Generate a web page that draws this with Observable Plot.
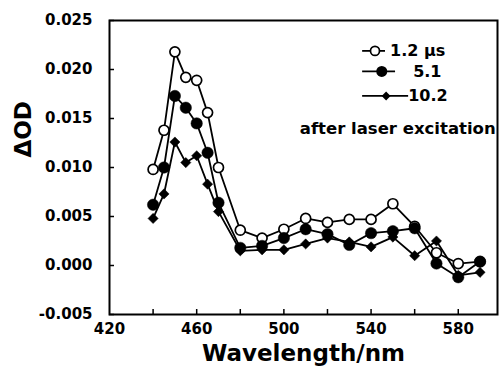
<!DOCTYPE html>
<html>
<head>
<meta charset="utf-8">
<script src="https://cdn.jsdelivr.net/npm/d3@7"></script>
<script src="https://cdn.jsdelivr.net/npm/@observablehq/plot@0.6"></script>
<style>
  html, body { margin: 0; padding: 0; background: #fff; }
  #chart { width: 500px; height: 375px; }
</style>
</head>
<body>
<div id="chart"></div>
<script>
// ---- data ----
const wavelengths = [440, 445, 450, 455, 460, 465, 470, 480, 490, 500, 510, 520, 530, 540, 550, 560, 570, 580, 590];
const od_1_2us = [0.0098, 0.0138, 0.0218, 0.0192, 0.0189, 0.0156, 0.0100, 0.0036, 0.0028, 0.0037, 0.0048, 0.0044, 0.0047, 0.0047, 0.0063, 0.0040, 0.0013, 0.0002, 0.0004];
const od_5_1us = [0.0062, 0.0100, 0.0173, 0.0161, 0.0145, 0.0115, 0.0064, 0.0018, 0.0020, 0.0028, 0.0037, 0.0032, 0.0021, 0.0033, 0.0035, 0.0038, 0.0002, -0.0012, 0.0004];
const od_10_2us = [0.0048, 0.0073, 0.0126, 0.0105, 0.0112, 0.0083, 0.0055, 0.0015, 0.0016, 0.0016, 0.0022, 0.0028, 0.0024, 0.0019, 0.0029, 0.0010, 0.0025, -0.0010, -0.0007];
const seriesLabels = ["1.2 \u00b5s", "5.1", "10.2"];
const xTickLabels = [420, 460, 500, 540, 580];
const xTickMarks = [440, 460, 480, 500, 520, 540, 560, 580];
const yTicks = [-0.005, 0.000, 0.005, 0.010, 0.015, 0.020, 0.025];
const xTitle = "Wavelength/nm";
const yTitle = "\u0394OD";
const note = "after laser excitation";

// ---- layout (positions in data units) ----
const X0 = 420, X1 = 598, Y0 = -0.005, Y1 = 0.025;
const pxX = (X1 - X0) / 388, pxY = (Y1 - Y0) / 294;
const legendLayout = [
  {lineFrom: 535.9, lineTo: 546.4, mark: 541.8, text: 548.7, y: 0.0219},
  {lineFrom: 535.9, lineTo: 551.0, mark: 544.9, text: 559.3, y: 0.0198},
  {lineFrom: 535.9, lineTo: 557.0, mark: 546.9, text: 557.0, y: 0.0173}
];
const noteAt = {x: 507.3, y: 0.0140};

const rows = (vals) => wavelengths.map((w, i) => ({w, v: vals[i]}));
const r1 = rows(od_1_2us), r2 = rows(od_5_1us), r3 = rows(od_10_2us);

const legendRows = seriesLabels.map((label, i) => ({label, ...legendLayout[i]}));

const lineStyle = {x: "w", y: "v", stroke: "black", strokeWidth: 1.8};
const openDot = {r: 5, fill: "white", stroke: "black", strokeWidth: 1.7};
const fillDot = {r: 5.7, fill: "black", stroke: "black", strokeWidth: 0.5};
const diamondDot = {r: 4.6, symbol: "diamond2", fill: "black", stroke: "black", strokeWidth: 0.5};

const chart = Plot.plot({
  width: 500,
  height: 375,
  marginLeft: 109,
  marginRight: 3,
  marginTop: 20,
  marginBottom: 61,
  style: {fontFamily: "DejaVu Sans", fontWeight: "bold", fontSize: "15px", color: "black", background: "white"},
  x: {domain: [X0, X1]},
  y: {domain: [Y0, Y1]},
  marks: [
    Plot.axisX({ticks: xTickLabels, tickSize: 0, tickPadding: 9, tickFormat: d => String(d), label: null, fontSize: 15}),
    Plot.axisY({ticks: yTicks, tickSize: 0, tickPadding: 17, tickFormat: d => d.toFixed(3), label: null, fontSize: 15}),
    Plot.ruleX(xTickMarks, {x: d => d, y1: Y0, y2: Y0 + 5 * pxY, stroke: "black", strokeWidth: 1.5}),
    Plot.ruleY(yTicks, {y: d => d, x1: X0, x2: X0 + 5 * pxX, stroke: "black", strokeWidth: 1.5}),
    Plot.frame({stroke: "black", strokeWidth: 2}),
    // series
    Plot.line(r3, lineStyle),
    Plot.dot(r3, {x: "w", y: "v", ...diamondDot}),
    Plot.line(r1, lineStyle),
    Plot.dot(r1, {x: "w", y: "v", ...openDot}),
    Plot.line(r2, lineStyle),
    Plot.dot(r2, {x: "w", y: "v", ...fillDot}),
    // legend
    Plot.link(legendRows, {x1: "lineFrom", x2: "lineTo", y1: "y", y2: "y", stroke: "black", strokeWidth: 1.8}),
    Plot.dot(legendRows.filter((d, i) => i === 0), {x: "mark", y: "y", r: 4.5, fill: "white", stroke: "black", strokeWidth: 1.7}),
    Plot.dot(legendRows.filter((d, i) => i === 1), {x: "mark", y: "y", r: 5.5, fill: "black"}),
    Plot.dot(legendRows.filter((d, i) => i === 2), {x: "mark", y: "y", r: 4, symbol: "diamond2", fill: "black"}),
    Plot.text(legendRows, {x: "text", y: "y", text: "label", textAnchor: "start", fontSize: 16, fontWeight: "bold", fill: "black"}),
    Plot.text([note], {x: noteAt.x, y: noteAt.y, text: d => d, textAnchor: "start", fontSize: 16.5, fontWeight: "bold", fill: "black"}),
    // axis titles
    Plot.text([xTitle], {frameAnchor: "bottom", dy: 46, text: d => d, fontSize: 23, fontWeight: "bold", fill: "black"}),
    Plot.text([yTitle], {frameAnchor: "left", dx: -86, dy: -10, rotate: -90, text: d => d, fontSize: 23, fontWeight: "bold", fill: "black"})
  ]
});
document.getElementById("chart").appendChild(chart);
</script>
</body>
</html>
